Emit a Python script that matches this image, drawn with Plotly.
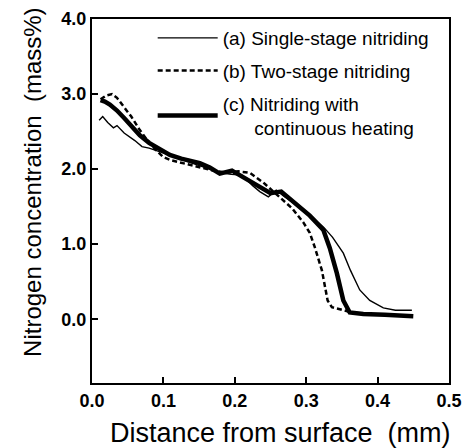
import plotly.graph_objects as go

# (a) Single-stage nitriding
xa = [0.010, 0.015, 0.022, 0.030, 0.035, 0.045, 0.060, 0.070, 0.080, 0.100, 0.120, 0.140, 0.160,
      0.180, 0.195, 0.210, 0.225, 0.235, 0.247, 0.258, 0.270, 0.290, 0.310, 0.325, 0.337, 0.352,
      0.362, 0.375, 0.389, 0.408, 0.425, 0.448]
ya = [2.65, 2.70, 2.62, 2.55, 2.58, 2.48, 2.38, 2.30, 2.28, 2.22, 2.15, 2.08, 2.02,
      1.95, 1.93, 1.92, 1.78, 1.70, 1.63, 1.72, 1.63, 1.50, 1.35, 1.22, 1.09, 0.88,
      0.65, 0.39, 0.25, 0.15, 0.12, 0.12]

# (b) Two-stage nitriding
xb = [0.012, 0.020, 0.028, 0.035, 0.043, 0.055, 0.067, 0.080, 0.091, 0.100, 0.110, 0.130, 0.150,
      0.170, 0.190, 0.205, 0.221, 0.240, 0.260, 0.280, 0.296, 0.305, 0.312, 0.318, 0.322, 0.327,
      0.330, 0.336, 0.350, 0.360]
yb = [2.93, 2.98, 3.00, 2.95, 2.85, 2.70, 2.52, 2.35, 2.24, 2.16, 2.12, 2.07, 2.03,
      1.98, 1.95, 1.97, 1.95, 1.82, 1.65, 1.48, 1.29, 1.15, 0.96, 0.79, 0.65, 0.40,
      0.25, 0.16, 0.12, 0.10]

# (c) Nitriding with continuous heating
xc = [0.012, 0.018, 0.025, 0.035, 0.045, 0.055, 0.067, 0.080, 0.095, 0.109, 0.125, 0.140, 0.151,
      0.165, 0.179, 0.196, 0.212, 0.230, 0.250, 0.265, 0.285, 0.305, 0.324, 0.333, 0.343, 0.352,
      0.361, 0.380, 0.410, 0.450]
yc = [2.92, 2.90, 2.86, 2.78, 2.68, 2.57, 2.45, 2.35, 2.26, 2.19, 2.14, 2.10, 2.08,
      2.02, 1.94, 1.98, 1.89, 1.78, 1.68, 1.70, 1.54, 1.38, 1.19, 0.95, 0.61, 0.25,
      0.09, 0.07, 0.06, 0.04]

NB = "\u00a0"
names = ["(a) Single-stage nitriding", "(b) Two-stage nitriding",
         "(c) Nitriding with<br>" + NB * 6 + "continuous heating"]

x_ticks = [0.0, 0.1, 0.2, 0.3, 0.4, 0.5]
x_ticktext = ["0.0", "0.1", "0.2", "0.3", "0.4", "0.5"]
y_ticks = [0.0, 1.0, 2.0, 3.0, 4.0]
y_ticktext = ["0.0", "1.0", "2.0", "3.0", "4.0"]

x_title = "Distance from surface" + NB * 2 + "(mm)"
y_title = "Nitrogen concentration" + NB * 2 + "(mass%)"

FONT = "Liberation Sans, Arial, sans-serif"

fig = go.Figure()
fig.add_trace(go.Scatter(x=xa, y=ya, mode="lines", name=names[0], legendgroup="a",
                         line=dict(color="black", width=1.4)))
fig.add_trace(go.Scatter(x=xb, y=yb, mode="lines", name=names[1], legendgroup="b",
                         line=dict(color="black", width=2.5, dash="5px,3px")))
fig.add_trace(go.Scatter(x=xc, y=yc, mode="lines", name=names[2], legendgroup="c",
                         line=dict(color="black", width=4.5)))

fig.update_layout(
    width=471, height=448,
    margin=dict(l=92, r=22, t=19, b=65),
    paper_bgcolor="white", plot_bgcolor="white",
    font=dict(family=FONT, color="black"),
    legend=dict(x=0.17, y=1.0, xanchor="left", yanchor="top",
                bgcolor="rgba(0,0,0,0)", font=dict(size=19, family=FONT),
                tracegroupgap=5, itemwidth=60),
    showlegend=True,
    annotations=[
        dict(text=y_title, xref="paper", yref="paper",
             x=-0.165, y=0.55, xanchor="center", yanchor="middle",
             textangle=-90, showarrow=False, font=dict(size=24, family=FONT)),
        dict(text=x_title, xref="paper", yref="paper",
             x=0.527, y=-0.137, xanchor="center", yanchor="middle",
             showarrow=False, font=dict(size=27, family=FONT)),
    ],
)
fig.update_xaxes(
    range=[0, 0.5], tickvals=x_ticks, ticktext=x_ticktext,
    ticks="inside", ticklen=6, tickwidth=2, tickcolor="black",
    showline=True, linewidth=2, linecolor="black", mirror=True,
    showgrid=False, zeroline=False,
    tickfont=dict(size=18, family=FONT, weight="bold"),
    automargin=False,
)
fig.update_yaxes(
    range=[-0.85, 4.0], tickvals=y_ticks, ticktext=y_ticktext,
    ticks="inside", ticklen=6, tickwidth=2, tickcolor="black",
    showline=True, linewidth=2, linecolor="black", mirror=True,
    showgrid=False, zeroline=False,
    tickfont=dict(size=18, family=FONT, weight="bold"),
    automargin=False,
)

fig.write_html("out.html")
